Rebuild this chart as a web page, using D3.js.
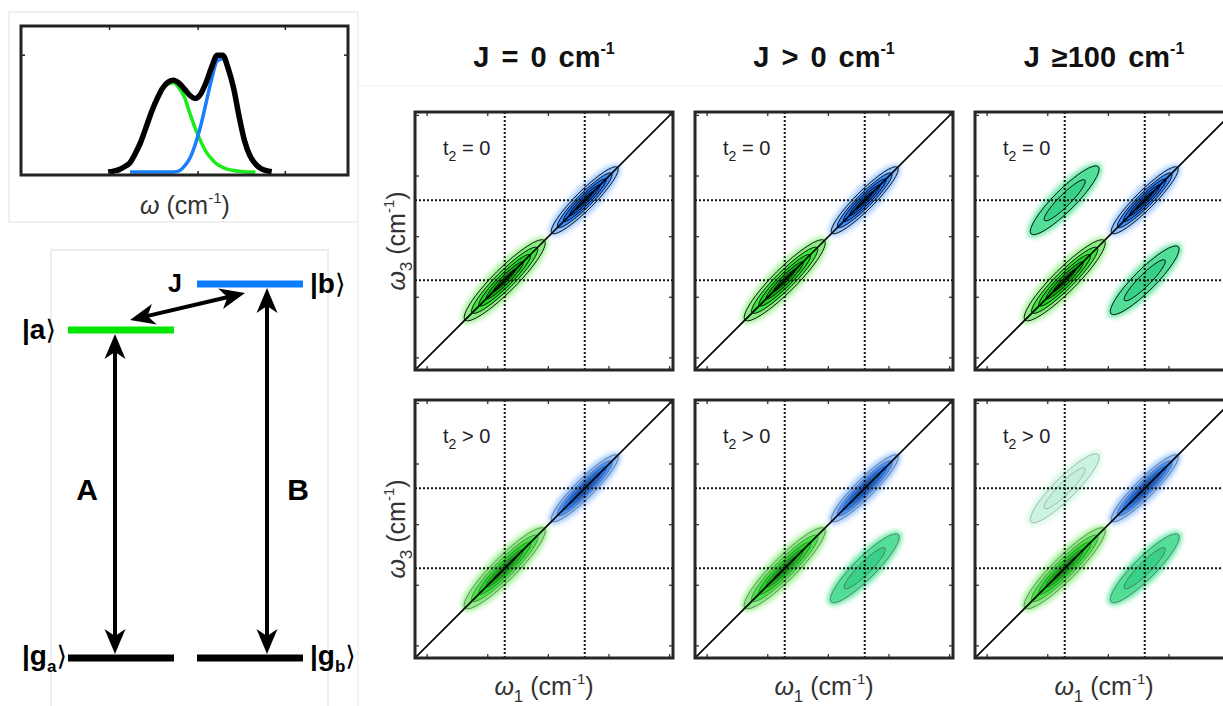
<!DOCTYPE html>
<html>
<head>
<meta charset="utf-8">
<script src="https://cdn.jsdelivr.net/npm/d3@7"></script>
<style>
body{margin:0;background:#fff;}
svg{display:block;font-family:"Liberation Sans",Arial,sans-serif;}
</style>
</head>
<body>
<svg id="fig" width="1223" height="706"></svg>
<script>
// ---------- data: linear spectrum ----------
var specOmega = [11880,11900,11920,11940,11960,11980,12000,12020,12040,12060,12080,12100,12120,12140,12160,12180,12200,
                 12220,12240,12260,12280,12300,12320,12340,12360,12380,12400,12420,12440,12460,12480,12500,12520,12540];
var specTotal = [null,null,0,0.008,0.02,0.045,0.08,0.16,0.26,0.39,0.52,0.63,0.72,0.77,0.785,0.76,0.71,
                 0.655,0.63,0.67,0.77,0.90,1.0,1.0,0.89,0.72,0.48,0.27,0.14,0.07,0.03,0.012,0.002,null];
var specA     = [null,null,null,null,null,null,0.075,0.15,0.25,0.38,0.51,0.62,0.71,0.755,0.765,0.72,0.64,
                 0.50,0.37,0.26,0.17,0.11,0.065,0.04,0.022,0.012,0.006,0.003,0.001,0,null,null,null,null];
var specB     = [null,null,null,null,null,null,0,0,0,0,0,0,0,0,0.001,0.01,0.05,
                 0.12,0.24,0.40,0.60,0.80,0.95,0.97,0.87,0.71,0.47,0.27,0.14,0.07,null,null,null,null];
var specTicks = [11925, 12250, 12570];
var specYTicks = [1.0];

// ---------- data: energy level scheme ----------
var levelName = ["g","g","a","b"];
var levelSub  = ["a","b","",""];
var levelSide = [0,1,0,1];
var levelE    = [0,0,1.0,1.14];

// ---------- data: 2D spectra ----------
var colTitles = ["J = 0 cm", "J > 0 cm", "J \u2265100 cm"];
var rowTitles = [" = 0", " > 0"];
var omegaA = 12160, omegaB = 12325;
var omegaDomain = [11975, 12507];
var omegaTicks = [12000, 12125, 12250, 12375, 12500];

// one entry per peak: panel row/col, centre (w1, w3), kind, strength
var peakRow  = [0,0, 0,0, 0,0,0,0, 1,1, 1,1,1, 1,1,1,1];
var peakCol  = [0,0, 1,1, 2,2,2,2, 0,0, 1,1,1, 2,2,2,2];
var peakW1   = [omegaA,omegaB, omegaA,omegaB, omegaA,omegaB,omegaA,omegaB, omegaA,omegaB, omegaA,omegaB,omegaB, omegaA,omegaB,omegaA,omegaB];
var peakW3   = [omegaA,omegaB, omegaA,omegaB, omegaA,omegaB,omegaB,omegaA, omegaA,omegaB, omegaA,omegaB,omegaA, omegaA,omegaB,omegaB,omegaA];
var peakKind = ["a","b", "a","b", "a","b","x","x", "a","b", "a","b","x", "a","b","x","x"];
var peakAmp  = [1,1, 1,1, 1,1,1,1, 1,1, 1,1,1, 1,1,0.3,1];
// half length / half width along and across the diagonal (cm-1)
var peakLen  = {a:116, b:96, x:98};
var peakWid  = {a:24, b:19, x:22};

// ---------- styles ----------
var peakStyle = {
  a: {halo:"#9cf090", lenF:[1,0.82,0.64,0.46,0.28], widF:[1,0.76,0.55,0.36,0.18],
      fills:["#8cec84","#3ee43e","#25d025","#16b016","#0f7a0f"]},
  b: {halo:"#9cc6ff", lenF:[1,0.82,0.64,0.46,0.28], widF:[1,0.76,0.55,0.36,0.18],
      fills:["#8fc0ff","#3a8cff","#1f74f0","#155fd6","#0d47a8"]},
  x: {halo:"#5fe6a0", lenF:[1,0.6], widF:[1,0.55],
      fills:["#52de98","#38d086"]}
};

var svg = d3.select("#fig");
var defs = svg.append("defs");
defs.append("filter").attr("id","halo").attr("x","-50%").attr("y","-50%").attr("width","200%").attr("height","200%")
    .append("feGaussianBlur").attr("stdDeviation",2.6);
defs.append("filter").attr("id","soft").attr("x","-50%").attr("y","-50%").attr("width","200%").attr("height","200%")
    .append("feGaussianBlur").attr("stdDeviation",1.0);

// faint frames of the composed figure
svg.append("rect").attr("x",9).attr("y",12).attr("width",349).attr("height",210)
   .attr("fill","none").attr("stroke","#e2e2e2");
svg.append("rect").attr("x",51).attr("y",250).attr("width",277).attr("height",470)
   .attr("fill","none").attr("stroke","#dcdcdc");
svg.append("line").attr("x1",358).attr("x2",358).attr("y1",225).attr("y2",706).attr("stroke","#e6e6e6");
svg.append("line").attr("x1",359).attr("x2",1223).attr("y1",86).attr("y2",86).attr("stroke","#ececec");

// ---------- linear spectrum ----------
var sx = d3.scaleLinear().domain([11600, 12800]).range([21, 348]);
var sy = d3.scaleLinear().domain([0, 1.25]).range([172, 26]);
var spec = svg.append("g");
function specLine(vals){
  return d3.line().defined(function(d,i){return vals[i] !== null;})
    .x(function(d){return sx(d);}).y(function(d,i){return sy(vals[i]);})
    .curve(d3.curveMonotoneX)(specOmega);
}
spec.append("path").attr("d",specLine(specA)).attr("fill","none").attr("stroke","#1aeb1a").attr("stroke-width",3.5);
spec.append("path").attr("d",specLine(specB)).attr("fill","none").attr("stroke","#1a7fff").attr("stroke-width",3.5);
spec.append("path").attr("d",specLine(specTotal)).attr("fill","none").attr("stroke","#000").attr("stroke-width",5.5)
    .attr("stroke-linejoin","round");
spec.append("rect").attr("x",21).attr("y",26).attr("width",327).attr("height",149)
    .attr("fill","none").attr("stroke","#222").attr("stroke-width",3);
specTicks.forEach(function(t){
  spec.append("line").attr("x1",sx(t)).attr("x2",sx(t)).attr("y1",27).attr("y2",30).attr("stroke","#222").attr("stroke-width",1.5);
  spec.append("line").attr("x1",sx(t)).attr("x2",sx(t)).attr("y1",174).attr("y2",171).attr("stroke","#222").attr("stroke-width",1.5);
});
specYTicks.forEach(function(t){
  spec.append("line").attr("x1",22).attr("x2",25).attr("y1",sy(t)).attr("y2",sy(t)).attr("stroke","#222").attr("stroke-width",1.5);
  spec.append("line").attr("x1",347).attr("x2",344).attr("y1",sy(t)).attr("y2",sy(t)).attr("stroke","#222").attr("stroke-width",1.5);
});

function omegaLabel(sel, sub){
  sel.append("tspan").attr("font-style","italic").text("\u03c9");
  if (sub) sel.append("tspan").attr("font-size",17).attr("dy",7).text(sub);
  sel.append("tspan").attr("dy", sub ? -7 : 0).text(" (cm");
  sel.append("tspan").attr("font-size",15).attr("dy",-11).text("-1");
  sel.append("tspan").attr("dy",11).text(")");
}
omegaLabel(spec.append("text").attr("x",185).attr("y",214).attr("text-anchor","middle")
  .attr("font-size",25).attr("fill","#333"), "");

// ---------- energy level diagram ----------
var yE = d3.scaleLinear().domain([0,1]).range([658,330]);
var sideX0 = [68, 197], barW = 106;
var levelColor = {g:"#000", a:"#00e600", b:"#0a7cff"};
var lev = svg.append("g");
levelName.forEach(function(n,i){
  var x0 = sideX0[levelSide[i]];
  lev.append("line").attr("x1",x0).attr("x2",x0+barW).attr("y1",yE(levelE[i])).attr("y2",yE(levelE[i]))
     .attr("stroke",levelColor[n]).attr("stroke-width",7);
  var lx = levelSide[i] === 0 ? 22 : 310;
  var t = lev.append("text").attr("x",lx).attr("y",yE(levelE[i])+ (levelSub[i] ? 7 : 9))
     .attr("font-size",28).attr("font-weight","bold").attr("fill","#000");
  t.append("tspan").text("|" + n);
  if (levelSub[i]) t.append("tspan").attr("font-size",17).attr("dy",7).text(levelSub[i]);
  t.append("tspan").attr("font-weight","normal").attr("font-family","DejaVu Sans").attr("font-size",27)
   .attr("dy", levelSub[i] ? -7 : 0).text("\u27e9");
});

function arrowHead(g, tip, dir){
  var L = 25, W = 10.5, n = 7;
  var px = -dir[1], py = dir[0];
  var pts = [[tip[0],tip[1]],
             [tip[0]-dir[0]*L+px*W, tip[1]-dir[1]*L+py*W],
             [tip[0]-dir[0]*(L-n), tip[1]-dir[1]*(L-n)],
             [tip[0]-dir[0]*L-px*W, tip[1]-dir[1]*L-py*W]];
  g.append("path").attr("d","M"+pts.join("L")+"Z").attr("fill","#000");
}
function doubleArrow(g, p1, p2){
  var dx = p2[0]-p1[0], dy = p2[1]-p1[1], len = Math.sqrt(dx*dx+dy*dy);
  var d = [dx/len, dy/len];
  g.append("line").attr("x1",p1[0]+d[0]*15).attr("y1",p1[1]+d[1]*15)
    .attr("x2",p2[0]-d[0]*15).attr("y2",p2[1]-d[1]*15).attr("stroke","#000").attr("stroke-width",4);
  arrowHead(g, p2, d);
  arrowHead(g, p1, [-d[0],-d[1]]);
}
var arrowX = [115, 267];
doubleArrow(lev, [arrowX[0], yE(levelE[2])+4], [arrowX[0], yE(0)-4]);
doubleArrow(lev, [arrowX[1], yE(levelE[3])+4], [arrowX[1], yE(0)-4]);
doubleArrow(lev, [130, yE(levelE[2])-10], [245, yE(levelE[3])+9]);
lev.append("text").attr("x",87).attr("y",500).attr("text-anchor","middle").attr("font-size",30).attr("font-weight","bold").text("A");
lev.append("text").attr("x",298).attr("y",500).attr("text-anchor","middle").attr("font-size",30).attr("font-weight","bold").text("B");
lev.append("text").attr("x",175).attr("y",292).attr("text-anchor","middle").attr("font-size",25).attr("font-weight","bold").text("J");

// ---------- 2D spectra grid ----------
var size = 258;
var colX = [415, 695, 975], rowY = [112, 400];
var w1 = d3.scaleLinear().domain(omegaDomain).range([0, size]);
var w3 = d3.scaleLinear().domain(omegaDomain).range([size, 0]);
var pxPerCm = size / (omegaDomain[1] - omegaDomain[0]);

colTitles.forEach(function(t,c){
  var tt = svg.append("text").attr("x",colX[c]+size/2).attr("y",67).attr("text-anchor","middle")
    .attr("font-size",29).attr("font-weight","bold").attr("word-spacing",4).attr("fill","#111");
  tt.append("tspan").text(t);
  tt.append("tspan").attr("font-size",16).attr("dy",-13).text("-1");
});

function drawPeak(g, i, row){
  var st = peakStyle[peakKind[i]];
  var rx = peakLen[peakKind[i]] * pxPerCm, ry = peakWid[peakKind[i]] * pxPerCm;
  var faint = peakAmp[i] < 1;
  var pg = g.append("g")
    .attr("transform","translate("+w1(peakW1[i])+","+w3(peakW3[i])+") rotate(-45)");
  var fg = pg.append("g").attr("opacity", peakAmp[i]);
  fg.append("ellipse").attr("rx",rx+3).attr("ry",ry+3.5).attr("fill",st.halo).attr("filter","url(#halo)");
  var ff = fg.append("g").attr("filter", row === 1 ? "url(#soft)" : null);
  st.lenF.forEach(function(f,k){
    ff.append("ellipse").attr("rx",rx*f).attr("ry",ry*st.widF[k]).attr("fill",st.fills[k]);
  });
  st.lenF.forEach(function(f,k){
    pg.append("ellipse").attr("rx",rx*f).attr("ry",ry*st.widF[k]).attr("fill","none")
      .attr("stroke", faint ? "#9a9a9a" : (row === 1 ? "#444" : "#000"))
      .attr("stroke-width", row === 1 ? 0.8 : 0.85)
      .attr("stroke-opacity", faint ? 0.8 : (row === 1 ? 0.7 : 1));
  });
}

rowTitles.forEach(function(rt,r){
  colTitles.forEach(function(ct,c){
    var g = svg.append("g").attr("transform","translate("+colX[c]+","+rowY[r]+")");
    var cid = "clip"+r+c;
    defs.append("clipPath").attr("id",cid).append("rect").attr("width",size).attr("height",size);
    var inner = g.append("g").attr("clip-path","url(#"+cid+")");
    peakRow.forEach(function(pr,i){
      if (pr === r && peakCol[i] === c) drawPeak(inner, i, r);
    });
    [omegaA, omegaB].forEach(function(w){
      inner.append("line").attr("x1",w1(w)).attr("x2",w1(w)).attr("y1",0).attr("y2",size)
        .attr("stroke","#111").attr("stroke-width",2).attr("stroke-dasharray","2,2");
      inner.append("line").attr("y1",w3(w)).attr("y2",w3(w)).attr("x1",0).attr("x2",size)
        .attr("stroke","#111").attr("stroke-width",2).attr("stroke-dasharray","2,2");
    });
    inner.append("line").attr("x1",w1(omegaDomain[0])).attr("y1",w3(omegaDomain[0]))
      .attr("x2",w1(omegaDomain[1])).attr("y2",w3(omegaDomain[1])).attr("stroke","#000").attr("stroke-width",1.6);
    omegaTicks.forEach(function(t){
      g.append("line").attr("x1",w1(t)).attr("x2",w1(t)).attr("y1",1).attr("y2",4).attr("stroke","#333").attr("stroke-width",1.3);
      g.append("line").attr("x1",w1(t)).attr("x2",w1(t)).attr("y1",size-1).attr("y2",size-4).attr("stroke","#333").attr("stroke-width",1.3);
      g.append("line").attr("y1",w3(t)).attr("y2",w3(t)).attr("x1",1).attr("x2",4).attr("stroke","#333").attr("stroke-width",1.3);
      g.append("line").attr("y1",w3(t)).attr("y2",w3(t)).attr("x1",size-1).attr("x2",size-4).attr("stroke","#333").attr("stroke-width",1.3);
    });
    g.append("rect").attr("width",size).attr("height",size).attr("fill","none")
      .attr("stroke","#262626").attr("stroke-width",3);
    var lab = g.append("text").attr("x",28).attr("y",43).attr("font-size",20).attr("fill","#222");
    lab.append("tspan").text("t");
    lab.append("tspan").attr("font-size",14).attr("dy",6).text("2");
    lab.append("tspan").attr("dy",-6).text(rt);
  });
  omegaLabel(svg.append("text").attr("transform","translate(405,"+(rowY[r]+size/2)+") rotate(-90)")
    .attr("text-anchor","middle").attr("font-size",25).attr("fill","#333"), "3");
});

colX.forEach(function(x){
  omegaLabel(svg.append("text").attr("x",x+size/2).attr("y",695).attr("text-anchor","middle")
    .attr("font-size",25).attr("fill","#333"), "1");
});
</script>
</body>
</html>
